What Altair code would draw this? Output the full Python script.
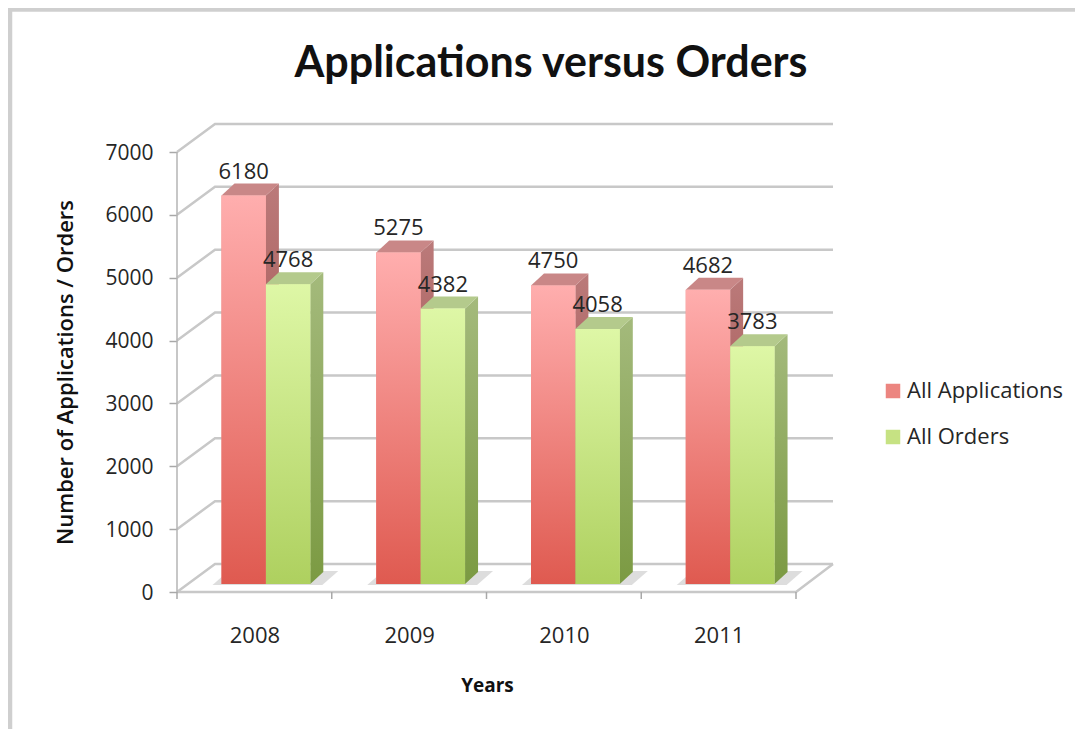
import altair as alt
import pandas as pd

# ---- values ----
years = ["2008", "2009", "2010", "2011"]
applications = [6180, 5275, 4750, 4682]
orders = [4768, 4382, 4058, 3783]
y_ticks = [0, 1000, 2000, 3000, 4000, 5000, 6000, 7000]
series_names = ["All Applications", "All Orders"]
swatch_colors = ["#ec8580", "#c6e283"]

FONT = "Open Sans"
TITLE_FONT = "Lato"
TEXT = "#262626"
GRID = "#c8c8c8"

# scale factors: one category = 154.75 px, 7000 units = 440 px
UX = 1 / 154.75
UY = 7000 / 440
X_MAX = 656 * UX
Y_MAX = 468 * UY
WALL_DX, WALL_DY = 38 * UX, 28 * UY      # depth of the chart box
BAR_DX, BAR_DY = 13 * UX, 12 * UY        # depth of a bar
BASE_DX, BASE_DY = 11.5 * UX, 8 * UY     # bar's front face inside the box
GAP = 33 * UX
BAR_W = 44.4 * UX

sides, tops, shadows = {}, {}, []
front_rows = []
for s, (name, vals) in enumerate(zip(series_names, [applications, orders])):
    side_rows, top_rows = [], []
    for i, v in enumerate(vals):
        x0 = i + GAP + BASE_DX + s * BAR_W
        x1 = x0 + BAR_W
        top = v + BASE_DY
        front_rows.append(dict(series=name, x0=x0, x1=x1, xc=(x0 + x1) / 2, top=top, base=BASE_DY, value=v))
        side_rows += [
            dict(bar=i, x=x1, y=top, y2=BASE_DY),
            dict(bar=i, x=x1 + BAR_DX, y=top + BAR_DY, y2=BASE_DY + BAR_DY),
        ]
        top_rows += [
            dict(bar=i, x=x0, y=top, y2=top),
            dict(bar=i, x=x0 + BAR_DX, y=top + BAR_DY, y2=top),
            dict(bar=i, x=x1, y=top + BAR_DY, y2=top),
            dict(bar=i, x=x1 + BAR_DX, y=top + BAR_DY, y2=top + BAR_DY),
        ]
    sides[name] = pd.DataFrame(side_rows)
    tops[name] = pd.DataFrame(top_rows)

for i in range(len(years)):
    left = i + GAP + BASE_DX - 9 * UX
    right = i + GAP + BASE_DX + 2 * BAR_W + 12 * UX
    low = BASE_DY - 1 * UY
    high = BASE_DY + 13 * UY
    shadows += [
        dict(bar=i, x=left, y=low, y2=low),
        dict(bar=i, x=left + 16 * UX, y=high, y2=low),
        dict(bar=i, x=right, y=high, y2=low),
        dict(bar=i, x=right + 16 * UX, y=high, y2=high),
    ]

fronts = pd.DataFrame(front_rows)
shadow_df = pd.DataFrame(shadows)

grid_rows = []
for t in y_ticks:
    grid_rows += [
        dict(level=t, x=0, y=t),
        dict(level=t, x=WALL_DX, y=t + WALL_DY),
        dict(level=t, x=X_MAX, y=t + WALL_DY),
    ]
# front edge of the floor
grid_rows += [
    dict(level=-1, x=0, y=0),
    dict(level=-1, x=len(years), y=0),
    dict(level=-1, x=X_MAX, y=WALL_DY),
]
grid_df = pd.DataFrame(grid_rows)
cat_ticks = pd.DataFrame({"x": list(range(len(years) + 1)), "y": [0] * 5, "y2": [-7 * UY] * 5})
val_axis = pd.DataFrame({"x": [0], "y": [0], "y2": [7000]})

x_scale = alt.Scale(domain=[0, X_MAX], nice=False, zero=False)
y_scale = alt.Scale(domain=[0, Y_MAX], nice=False, zero=False)
X = alt.X("x:Q", scale=x_scale, title="Years", axis=alt.Axis(
    values=[0.5, 1.5, 2.5, 3.5],
    labelExpr="['2008','2009','2010','2011'][floor(datum.value)]",
    ticks=False, domain=False, grid=False, labelPadding=33, labelFont=FONT, labelFontSize=22,
    labelColor=TEXT, titleFont=FONT, titleFontSize=19, titleFontWeight="bold", titleColor="#111111",
    titleX=310, titleY=84, labelFlush=False, labelOverlap=False))
Y = alt.Y("y:Q", scale=y_scale, title="Number of Applications / Orders", axis=alt.Axis(
    values=y_ticks, format="d", tickSize=8, tickColor="#a8a8a8", tickWidth=1.5, domain=False, grid=False,
    labelPadding=16, labelFont=FONT, labelFontSize=21, labelColor=TEXT, labelOffset=1,
    titleFont=FONT, titleFontSize=22, titleFontWeight=600, titleColor="#111111",
    titleX=-100, titleY=248))

grid = alt.Chart(grid_df).mark_line(color=GRID, strokeWidth=2.5, clip=False).encode(x=X, y=Y, detail="level:N")
v_axis = alt.Chart(val_axis).mark_rule(color="#b4b4b4", strokeWidth=1.5).encode(
    x=alt.X("x:Q", scale=x_scale), y=alt.Y("y:Q", scale=y_scale), y2="y2:Q")
c_ticks = alt.Chart(cat_ticks).mark_rule(color="#a8a8a8", strokeWidth=1.5).encode(
    x=alt.X("x:Q", scale=x_scale), y=alt.Y("y:Q", scale=y_scale), y2="y2:Q")
shadow = alt.Chart(shadow_df).mark_area(color="#d9d9d9", opacity=0.9).encode(
    x=alt.X("x:Q", scale=x_scale), y=alt.Y("y:Q", scale=y_scale), y2="y2:Q", detail="bar:N")


def grad(top, bottom):
    return alt.Gradient(gradient="linear", x1=0, x2=0, y1=0, y2=1,
                        stops=[alt.GradientStop(offset=0, color=top), alt.GradientStop(offset=1, color=bottom)])


def bar3d(name, front_top, front_bottom, side_top, side_bottom, top_color):
    sub = fronts[fronts.series == name]
    side = alt.Chart(sides[name]).mark_area(color=grad(side_top, side_bottom)).encode(
        x=alt.X("x:Q", scale=x_scale), y=alt.Y("y:Q", scale=y_scale), y2="y2:Q", detail="bar:N")
    lid = alt.Chart(tops[name]).mark_area(color=top_color).encode(
        x=alt.X("x:Q", scale=x_scale), y=alt.Y("y:Q", scale=y_scale), y2="y2:Q", detail="bar:N")
    face = alt.Chart(sub).mark_bar(color=grad(front_top, front_bottom)).encode(
        x=alt.X("x0:Q", scale=x_scale), x2="x1:Q", y=alt.Y("top:Q", scale=y_scale), y2="base:Q")
    return [side, lid, face]


legend_layer = alt.Chart(fronts).mark_bar().encode(
    x=alt.X("x0:Q", scale=x_scale), x2="x1:Q", y=alt.Y("top:Q", scale=y_scale), y2="base:Q",
    color=alt.Color("series:N", scale=alt.Scale(domain=series_names, range=swatch_colors),
                    legend=alt.Legend(title=None, orient="none", legendX=705, legendY=256,
                                      symbolType="square", symbolSize=210, symbolStrokeWidth=0,
                                      labelFont=FONT, labelFontSize=22, labelColor=TEXT,
                                      rowPadding=24, labelOffset=3)))

labels = alt.Chart(fronts).mark_text(font=FONT, fontSize=22, color=TEXT, dy=-24).encode(
    x=alt.X("xc:Q", scale=x_scale), y=alt.Y("top:Q", scale=y_scale), text="value:Q")

frame_left = alt.Chart(pd.DataFrame({"a": [0]})).mark_rule(color="#cfcfcf", strokeWidth=4.5).encode(
    x=alt.value(-167), y=alt.value(-117), y2=alt.value(605))
frame_top = alt.Chart(pd.DataFrame({"a": [0]})).mark_rule(color="#cfcfcf", strokeWidth=4.5).encode(
    y=alt.value(-114.5), x=alt.value(-169), x2=alt.value(906))

chart = alt.layer(
    frame_left, frame_top, grid, v_axis, c_ticks, shadow, legend_layer,
    *bar3d("All Applications", "#ffaeae", "#df5a50", "#bb7a7a", "#96403a", "#c98787"),
    *bar3d("All Orders", "#def7a6", "#aed05f", "#a4ba7c", "#7b9a42", "#b4ca8c"),
    labels,
).properties(
    width=656, height=468,
    padding={"left": 169, "top": 116, "right": 242, "bottom": 137},
    autosize=alt.AutoSizeParams(type="none"),
    background="white",
    title=alt.TitleParams("Applications versus Orders", font=TITLE_FONT, fontSize=43, fontWeight="bold",
                          color="#111111", anchor="middle", dx=46, offset=0, dy=81),
).configure_view(stroke=None)

chart.save("out.html", embed_options={"renderer": "svg", "actions": False})
